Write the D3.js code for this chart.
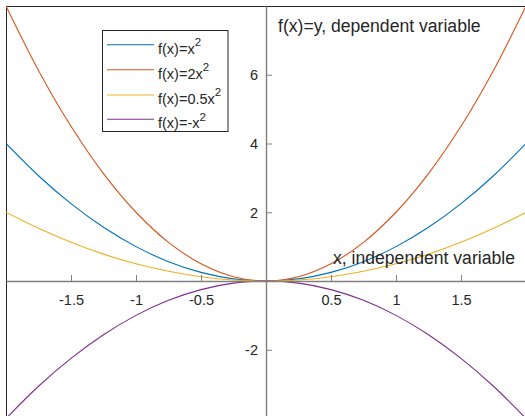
<!DOCTYPE html>
<html>
<head>
<meta charset="utf-8">
<script src="https://cdn.jsdelivr.net/npm/d3@7"></script>
<style>
  html, body { margin: 0; padding: 0; background: #fff; }
  svg { display: block; }
  text { font-family: "Liberation Sans", Arial, Helvetica, sans-serif; fill: #262626; }
</style>
</head>
<body>
<svg id="chart" width="525" height="416"></svg>
<script>
// ---- data ----
const xValues = [-2, -1.75, -1.5, -1.25, -1, -0.75, -0.5, -0.25, 0, 0.25, 0.5, 0.75, 1, 1.25, 1.5, 1.75, 2];
const ySquare = [4, 3.0625, 2.25, 1.5625, 1, 0.5625, 0.25, 0.0625, 0, 0.0625, 0.25, 0.5625, 1, 1.5625, 2.25, 3.0625, 4];
const yDouble = [8, 6.125, 4.5, 3.125, 2, 1.125, 0.5, 0.125, 0, 0.125, 0.5, 1.125, 2, 3.125, 4.5, 6.125, 8];
const yHalf = [2, 1.53125, 1.125, 0.78125, 0.5, 0.28125, 0.125, 0.03125, 0, 0.03125, 0.125, 0.28125, 0.5, 0.78125, 1.125, 1.53125, 2];
const yNeg = [-4, -3.0625, -2.25, -1.5625, -1, -0.5625, -0.25, -0.0625, 0, -0.0625, -0.25, -0.5625, -1, -1.5625, -2.25, -3.0625, -4];
const seriesNames = ["f(x)=x", "f(x)=2x", "f(x)=0.5x", "f(x)=-x"];
const seriesColors = ["#0072BD", "#D95319", "#EDB120", "#7E2F8E"];
const xTicks = [-1.5, -1, -0.5, 0.5, 1, 1.5];
const xTickLabels = ["-1.5", "-1", "-0.5", "0.5", "1", "1.5"];
const yTicks = [-2, 2, 4, 6];
const yTickLabels = ["-2", "2", "4", "6"];
const xDomain = [-2, 2];
const yDomain = [-4, 8];

(function () {
const seriesY = [ySquare, yDouble, yHalf, yNeg];

const svg = d3.select("#chart");
const pLeft = 6, pTop = 6, pRight = 526, pBottom = 418.5;

const x = d3.scaleLinear().domain(xDomain).range([pLeft, pRight]);
const y = d3.scaleLinear().domain(yDomain).range([pBottom, pTop]);

svg.append("defs").append("clipPath").attr("id", "plotclip")
  .append("rect").attr("x", pLeft).attr("y", pTop)
  .attr("width", pRight - pLeft).attr("height", pBottom - pTop);

// frame box
svg.append("rect")
  .attr("x", pLeft + 0.5).attr("y", pTop + 0.5)
  .attr("width", pRight - pLeft).attr("height", pBottom - pTop)
  .attr("fill", "#fff").attr("stroke", "#262626").attr("stroke-width", 1);

// curves
const line = d3.line()
  .x((d, i) => x(xValues[i]))
  .y(d => y(d))
  .curve(d3.curveCatmullRom.alpha(0.5));

const plot = svg.append("g").attr("clip-path", "url(#plotclip)");
seriesY.forEach((vals, k) => {
  plot.append("path")
    .datum(vals)
    .attr("d", line)
    .attr("fill", "none")
    .attr("stroke", seriesColors[k])
    .attr("stroke-width", 1.1);
});

// x axis through origin
const xAxis = d3.axisBottom(x)
  .tickValues(xTicks)
  .tickFormat((d, i) => xTickLabels[i])
  .tickSizeInner(-6).tickSizeOuter(0).tickPadding(14);
const gx = svg.append("g").attr("transform", `translate(0,${y(0)})`).call(xAxis);
gx.select(".domain").attr("stroke", "#808080").attr("stroke-width", 1.4);
gx.selectAll(".tick line").attr("stroke", "#808080").attr("stroke-width", 1);
gx.selectAll(".tick text").attr("font-size", 14.5).attr("fill", "#262626")
  .style("font-family", "'Liberation Sans', Arial, sans-serif");

// y axis through origin
const yAxis = d3.axisLeft(y)
  .tickValues(yTicks)
  .tickFormat((d, i) => yTickLabels[i])
  .tickSizeInner(-6).tickSizeOuter(0).tickPadding(8);
const gy = svg.append("g").attr("transform", `translate(${x(0)},0)`).call(yAxis);
gy.select(".domain").attr("stroke", "#808080").attr("stroke-width", 1.4);
gy.selectAll(".tick line").attr("stroke", "#808080").attr("stroke-width", 1);
gy.selectAll(".tick text").attr("font-size", 14.5).attr("fill", "#262626")
  .attr("dy", "0.36em")
  .style("font-family", "'Liberation Sans', Arial, sans-serif");

// axis labels
svg.append("text").attr("x", 278).attr("y", 32)
  .attr("font-size", 17.6).text("f(x)=y, dependent variable");
svg.append("text").attr("x", 333).attr("y", 264)
  .attr("font-size", 17.6).text("x, independent variable");

// legend
const lg = svg.append("g");
lg.append("rect").attr("x", 102.5).attr("y", 30.5).attr("width", 125.5).attr("height", 101)
  .attr("fill", "#fff").attr("stroke", "#262626").attr("stroke-width", 1);
const rowY = [44.7, 69.7, 95, 119.3];
seriesNames.forEach((name, k) => {
  lg.append("line").attr("x1", 107).attr("x2", 154)
    .attr("y1", rowY[k]).attr("y2", rowY[k])
    .attr("stroke", seriesColors[k]).attr("stroke-width", 1.1);
  const t = lg.append("text").attr("x", 158).attr("y", rowY[k] + 9).attr("font-size", 14.5);
  t.append("tspan").text(name);
  t.append("tspan").attr("dy", -7.6).attr("font-size", 11.5).text("2");
});
})();
</script>
</body>
</html>
